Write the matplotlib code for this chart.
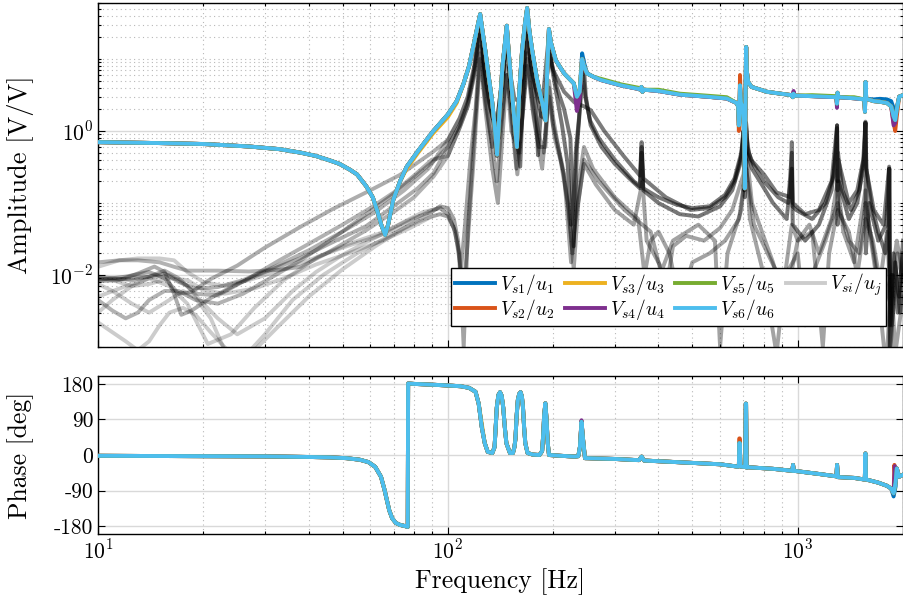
import numpy as np
import matplotlib
matplotlib.use('Agg')
import matplotlib.pyplot as plt
from matplotlib.ticker import LogLocator, FixedLocator, NullFormatter, FixedFormatter

# ---------------- DATA ----------------
# Main diagonal FRF (|Vs6/u6|), (frequency Hz, amplitude V/V)
AMP_BASE = [(10,0.70),(15,0.68),(20,0.66),(27,0.61),(33,0.56),(38,0.50),(42,0.45),(46,0.39),(49,0.35),
            (52.5,0.29),(55,0.25),(58.5,0.17),(61,0.12),(63,0.075),(64.5,0.05),(66.2,0.036),(67.5,0.05),
            (69.8,0.11),(73,0.2),(76.3,0.32),(82,0.52),(90.6,0.98),(100,1.7),(106,2.6),(111,4.6),(115,8),
            (118.6,16),(121.5,28),(123.7,42),(126,22),(128,13),(131,5.5),(133.7,2.7),(136.5,1.0),(138.3,0.47),
            (140.5,1.8),(143.2,7.8),(145.5,16),(147.4,29),(149,14),(151,6.3),(154,2.0),(157.5,0.6),(160,3.5),
            (163,13),(166,30),(168.5,51),(171,25),(174.3,13),(180,5.1),(186,2.5),(190.3,1.4),(192.5,8),
            (194.5,26),(197,17),(203.5,9.6),(215,6.3),(229,4.6),(233.8,3.0),(238,3.5),(242,10),(245,8),
            (250,6.3),(262,5.6),(274.5,5.1),(312.6,4.3),(350,3.85),(355,3.75),(357.5,4.1),(360,3.5),(363,3.75),
            (400,3.6),(461,3.2),(550,3.0),(627,2.83),(669,2.45),(676,2.2),(679,1.2),(682,2.0),(684,4.3),
            (688,2.5),(698,2.0),(704,0.8),(706,0.16),(708,1.0),(711,8),(712.5,14.7),(715,7),(722,4.8),
            (738,4.1),(818,3.5),(960,3.15),(968,2.95),(973,3.3),(978,3.1),(1100,3.05),(1290,2.95),(1295,2.4),
            (1300,3.4),(1308,2.95),(1450,2.85),(1550,2.75),(1557,1.85),(1563,4.8),(1570,2.8),(1650,2.6),
            (1717,2.55),(1800,2.45),(1850,2.2),(1880,1.6),(1900,1.42),(1920,2.0),(1950,3.0),(2000,3.15)]

# Per-channel deviations from the base amplitude curve
VS1_AMP = [(242,12),(245,9),(1650,2.75),(1717,2.8),(1800,2.75),(1850,2.6),(1880,2.1),(1900,1.6),(1930,2.4)]
VS2_AMP = [(679,1.0),(684,6.0),(1880,1.3),(1900,1.0),(1920,1.6)]
VS3_AMP = [(76.3,0.30),(82,0.49),(90.6,0.92),(100,1.56),(106,2.45)]
VS4_AMP = [(233.8,1.9),(238,2.8),(973,3.6),(1295,2.1),(1880,1.2),(1900,1.3)]
VS5_AMP = [(274.5,5.3),(312.6,4.45),(350,4.0),(400,3.75),(461,3.3),(550,3.1),(627,2.95),
           (1100,3.15),(1290,3.05),(1450,2.95)]
VS6_AMP = []

# Main diagonal phase (frequency Hz, phase deg)
PH_BASE = [(10,-2),(20,-3),(30,-3.5),(40,-5),(46,-6),(51.3,-8),(56,-12),(59.3,-18),(62,-30),(64.4,-55),
           (66,-90),(66.9,-113),(68,-140),(69.3,-160),(71,-172),(73,-177),(75.5,-180),(76.8,-182),(77.0,181),
           (80,180),(90,178),(100,176),(109,174),(115,170),(120,160),(122.5,130),(125,71),(127.5,30),(130,8),
           (134,5),(136,20),(137,70),(138,120),(139.5,152),(141,159),(142.5,150),(144,120),(145.5,70),(147,30),
           (150.5,5),(153.5,5),(155,20),(156,40),(157.3,100),(158.5,139),(160,155),(161.4,159),(162.8,148),
           (164,120),(165.2,70),(166.5,30),(169,5),(175,1),(182.8,0),(186,10),(187.3,50),(188.5,100),
           (190,131),(191.5,90),(193,30),(194.6,0),(210,-2),(230,-4),(236,-3),(238.5,20),(241,84),(243.5,40),
           (246.6,-8),(300,-10),(342,-12.6),(352,-13),(358,-4),(364,-14),(450,-18),(600,-23.5),(675,-29.5),
           (679,-28),(681,30),(683,30),(686,-29),(700,-30),(708,-30),(710.5,130),(712,130),(714.5,-32),
           (720,-31),(850,-35),(965,-40),(970,-25),(975,-40),(1150,-48),(1290,-54),(1296,-25),(1303,-56),
           (1450,-58),(1550,-62),(1556,-55),(1562,4),(1568,-62),(1700,-70),(1800,-78),(1850,-85),(1880,-97),
           (1905,-70),(1920,-34),(1950,-55),(2000,-50)]

VS1_PH = [(1880,-105),(1905,-80)]
VS2_PH = [(681,42),(683,42),(1890,-25)]
VS3_PH = [(125,80)]
VS4_PH = [(241,88),(1895,-28)]
VS5_PH = []
VS6_PH = []

CHANNEL_LABELS = [r'$V_{s1}/u_1$', r'$V_{s2}/u_2$', r'$V_{s3}/u_3$',
                  r'$V_{s4}/u_4$', r'$V_{s5}/u_5$', r'$V_{s6}/u_6$']
CROSS_LABEL = r'$V_{si}/u_j$'

# Off-diagonal FRFs: low-frequency parts
LF1 = [(10,0.0085),(12,0.0095),(14,0.011),(15.5,0.009),(17,0.0055),(18.5,0.0058),(21,0.0088),(25,0.0135),
       (30,0.024),(38,0.047),(47,0.083),(60,0.15),(73,0.246),(90,0.5)]
LF2 = [(10,0.009),(12,0.0088),(14,0.0095),(15.5,0.0115),(17,0.009),(19,0.0055),(22,0.0052),(27,0.009),
       (33,0.016),(40,0.027),(50,0.05),(60,0.085),(70,0.14),(80,0.24),(90,0.4)]
LF3 = [(10,0.015),(11.5,0.016),(13,0.016),(15,0.015),(16.5,0.013),(18,0.0115),(22,0.0115),(27,0.0112),
       (33,0.0118),(38,0.013),(45,0.02),(58.5,0.042),(70,0.075),(80,0.12),(91,0.233)]
LF8 = [(10,0.0082),(11.5,0.0085),(13,0.0105),(14.5,0.0131),(15.5,0.011),(16.5,0.0055),(17.3,0.0028),
       (18.5,0.0032),(21,0.0048),(25,0.0075),(30,0.011),(37.8,0.017),(45,0.026),(58.5,0.048),(72,0.1),
       (82,0.16),(91,0.26)]
LF9 = [(10,0.0045),(11,0.0032),(12,0.0025),(13,0.003),(14,0.0045),(15.5,0.006),(17,0.006),(19,0.0045),
       (22,0.004),(26,0.0055),(31,0.009),(38,0.016),(46,0.03),(56,0.06),(68,0.12),(82,0.25),(92,0.4)]
LF10 = [(10,0.0095),(11,0.009),(12.5,0.0085),(14,0.0095),(15.5,0.0105),(17,0.008),(19,0.0065),(22,0.0068),
        (26,0.0085),(32,0.013),(40,0.022),(50,0.04),(62,0.075),(75,0.15),(88,0.3)]
LF4 = [(10,0.005),(12,0.007),(14,0.009),(16,0.01),(18,0.007),(20,0.004),(22,0.0025),(25,0.0015),(30,0.0025),
       (36,0.006),(42,0.011),(50,0.019),(58,0.028),(65,0.037),(75,0.055),(85,0.075)]
LF5 = [(10,0.003),(11,0.0045),(12.5,0.007),(14,0.009),(16,0.007),(18,0.004),(20.6,0.0011),(24,0.0015),
       (28,0.0035),(34,0.0085),(42.6,0.018),(52,0.027),(65,0.039),(80,0.062),(90,0.075)]
LF6 = [(10,0.013),(11.5,0.016),(13,0.017),(15,0.017),(16.5,0.016),(18,0.011),(20,0.008),(23,0.007),
       (27,0.0085),(32,0.011),(40,0.016),(50,0.024),(60,0.032),(70,0.042),(80,0.06),(90,0.08)]
LF7 = [(10,0.0022),(11,0.0016),(12,0.0012),(13,0.0009),(14,0.0012),(15,0.002),(16,0.003),(17.5,0.0035),
       (19,0.0028),(21,0.0016),(24,0.0008),(28,0.0009),(33,0.002),(40,0.005),(50,0.012),(62,0.025),
       (75,0.045),(88,0.07)]
LF11 = [(10,0.0075),(11,0.006),(12.5,0.004),(14,0.003),(16,0.0045),(17.5,0.006),(19,0.0048),(21,0.0025),
        (23,0.0009),(26,0.0007),(30,0.0015),(36,0.0045),(44,0.01),(55,0.02),(68,0.035),(82,0.055),(90,0.065)]
LF12 = [(10,0.009),(11,0.0085),(12.5,0.007),(14,0.0075),(16,0.009),(18,0.0085),(20,0.0062),(23,0.0055),
        (28,0.0065),(34,0.009),(42,0.014),(52,0.02),(65,0.03),(78,0.045),(90,0.065)]

# Off-diagonal FRFs: high-frequency parts
HF_A = [(100,0.75),(108,1.5),(114,3),(119,8),(123.7,35),(127,9),(131,3),(134.5,1.5),(137.5,1.0),(141,3),
        (144.5,8),(147.4,25),(150,7),(153,2.5),(156,1.2),(159.5,2.0),(163,6),(166,20),(168.5,40),(171,15),
        (175,6),(180,3),(185,1.6),(189,1.5),(192,6),(194.5,22),(198,8),(205,3),(212,1.2),(220,0.35),
        (225,0.05),(228,0.08),(232,0.5),(237,1.5),(242,8),(247,3),(255,1.4),(270,0.8),(300,0.4),(340,0.2),
        (354,0.17),(358,0.6),(362,0.16),(400,0.12),(450,0.095),(500,0.085),(560,0.09),(620,0.13),(660,0.22),
        (690,0.5),(702,1.2),(708,0.3),(712,1.3),(716,0.8),(725,0.5),(745,0.35),(800,0.2),(880,0.12),
        (940,0.1),(962,0.5),(966,0.09),(990,0.08),(1100,0.06),(1200,0.1),(1270,0.25),(1296,1.1),(1300,0.2),
        (1304,0.5),(1340,0.15),(1420,0.08),(1500,0.15),(1552,0.5),(1562,1.3),(1572,0.3),(1620,0.1),
        (1700,0.04),(1780,0.02),(1820,0.05),(1828,0.3),(1836,0.002),(1870,0.01),(1930,0.003),(2000,0.02)]
HF_B = [(100,0.45),(108,1.1),(114,2.2),(119,6),(123.7,25),(127,7),(131,2.5),(134.5,1.5),(138,1.3),(142,4),
        (147.4,18),(151,6),(155,2.8),(160,2.6),(165,8),(168.5,25),(172,9),(178,4),(184,2.5),(190,3),
        (194.5,12),(200,7),(215,3.5),(230,2.5),(245,2.2),(256,1.95),(280,1.0),(318,0.45),(354,0.24),
        (358,0.7),(362,0.22),(420,0.12),(494,0.08),(560,0.085),(620,0.12),(660,0.2),(690,0.45),(700,1.0),
        (704,0.15),(712,1.3),(718,0.6),(735,0.4),(801,0.25),(870,0.14),(955,0.12),(962,0.7),(968,0.1),
        (1050,0.07),(1150,0.08),(1250,0.2),(1296,1.2),(1300,0.15),(1306,0.4),(1400,0.1),(1480,0.15),
        (1540,0.4),(1562,1.35),(1570,0.3),(1650,0.08),(1760,0.05),(1826,0.32),(1832,0.001),(1880,0.02),
        (1950,0.005),(2000,0.03)]
HF_E = [(100,0.6),(108,1.2),(114,2.5),(119,7),(123.7,30),(127,8),(131,2.8),(135,1.2),(138,0.45),(141,2),
        (144.5,6),(147.4,20),(150,6),(153,2.2),(157,1.0),(161,0.32),(164,3),(166.5,12),(168.5,38),(171,12),
        (175,5),(179,2),(181,0.46),(184,1.5),(189,5),(194.5,22),(198,9),(205,4),(215,2),(224,0.8),
        (229,0.025),(234,0.6),(240,3),(244,10),(248,3),(256,1.2),(275,0.6),(300,0.35),(330,0.22),(354,0.16),
        (358,0.5),(362,0.15),(400,0.1),(460,0.07),(520,0.065),(600,0.09),(650,0.15),(685,0.35),(700,0.8),
        (706,0.12),(712,1.1),(718,0.5),(740,0.3),(790,0.18),(850,0.1),(930,0.06),(962,0.3),(968,0.05),
        (1050,0.03),(1150,0.05),(1250,0.15),(1290,0.6),(1296,1.2),(1300,0.05),(1310,0.2),(1400,0.06),
        (1480,0.1),(1545,0.35),(1562,1.3),(1566,0.02),(1600,0.1),(1700,0.03),(1790,0.05),(1826,0.3),
        (1840,0.0008),(1900,0.015),(1960,0.003),(2000,0.01)]
HF_C = [(95,0.085),(100,0.07),(105,0.04),(109,0.012),(112,0.05),(116,0.4),(120,2),(123.7,15),(128,3),
        (133,0.8),(138,0.2),(143,1.5),(147.4,8),(152,1.5),(157,0.3),(162,1.2),(168.5,12),(175,2),(182,0.6),
        (190,0.6),(194.5,5),(200,1.5),(210,0.4),(220,0.1),(227,0.02),(235,0.15),(245,0.6),(260,0.3),
        (300,0.12),(350,0.06),(365,0.01),(380,0.03),(400,0.04),(430,0.02),(460,0.004),(500,0.015),
        (560,0.02),(620,0.03),(680,0.06),(712,0.3),(750,0.05),(820,0.02),(900,0.008),(1000,0.02),
        (1050,0.002),(1100,0.01),(1200,0.03),(1300,0.1),(1400,0.03),(1500,0.02),(1562,0.1),(1650,0.02),
        (1750,0.003),(1850,0.01),(1900,0.0008),(2000,0.005)]
HF_D = [(95,0.09),(100,0.085),(104,0.06),(107,0.03),(110,0.0035),(114,0.03),(118,0.3),(123.7,10),(128,2.5),
        (134,0.6),(140,0.8),(147.4,6),(152,2),(158,0.25),(164,2),(168.5,10),(175,2.5),(183,0.8),(188,0.5),
        (194.5,4),(200,1.2),(212,0.35),(222,0.08),(229,0.012),(236,0.1),(245,0.4),(270,0.2),(320,0.08),
        (380,0.04),(420,0.006),(440,0.025),(480,0.035),(540,0.03),(600,0.045),(650,0.08),(700,0.25),
        (712,0.6),(740,0.1),(790,0.04),(850,0.015),(920,0.004),(1000,0.03),(1080,0.05),(1150,0.02),
        (1250,0.06),(1300,0.2),(1350,0.04),(1450,0.015),(1562,0.15),(1620,0.03),(1700,0.006),(1790,0.0005),
        (1850,0.008),(1920,0.03),(2000,0.01)]
HF_F = [(95,0.07),(100,0.065),(104,0.045),(108,0.02),(111,0.001),(114,0.04),(118,0.5),(123.7,12),(128,2),
        (134,0.3),(139,0.1),(144,1.2),(147.4,6),(152,1.0),(160,0.5),(168.5,8),(176,1.5),(186,0.3),
        (194.5,3),(202,0.8),(215,0.25),(225,0.015),(232,0.06),(245,0.35),(265,0.18),(300,0.08),(340,0.05),
        (360,0.2),(370,0.03),(410,0.012),(440,0.03),(520,0.05),(580,0.03),(600,0.001),(630,0.02),(690,0.08),
        (712,0.4),(730,0.06),(800,0.01),(870,0.0008),(920,0.01),(962,0.05),(1000,0.03),(1100,0.04),
        (1180,0.001),(1230,0.02),(1300,0.08),(1400,0.04),(1480,0.01),(1562,0.06),(1640,0.03),(1720,0.008),
        (1800,0.04),(1860,0.002),(1930,0.02),(2000,0.008)]

# which low- and high-frequency parts form each off-diagonal curve, and its opacity
CROSS_CURVES = [('LF1', 'HF_A', 0.32), ('LF8', 'HF_E', 0.32), ('LF2', 'HF_B', 0.3),
                ('LF3', 'HF_B', 0.3), ('LF9', 'HF_E', 0.3), ('LF10', 'HF_A', 0.3),
                ('LF4', 'HF_C', 0.2), ('LF5', 'HF_D', 0.2), ('LF6', 'HF_C', 0.2),
                ('LF7', 'HF_D', 0.2), ('LF11', 'HF_F', 0.2), ('LF12', 'HF_F', 0.2)]

# ---------------- helpers ----------------
SEG = dict(LF1=LF1, LF2=LF2, LF3=LF3, LF4=LF4, LF5=LF5, LF6=LF6, LF7=LF7, LF8=LF8, LF9=LF9,
           LF10=LF10, LF11=LF11, LF12=LF12, HF_A=HF_A, HF_B=HF_B, HF_C=HF_C, HF_D=HF_D,
           HF_E=HF_E, HF_F=HF_F)


def merged(base, ovr):
    d = dict(base)
    d.update(dict(ovr))
    items = sorted(d.items())
    return np.array([k for k, _ in items]), np.array([v for _, v in items])


def joined(lf, hf):
    pts = sorted(lf + hf)
    return np.array([p[0] for p in pts]), np.array([p[1] for p in pts])


# ---------------- style ----------------
plt.rcParams['font.family'] = ['cmr10', 'DejaVu Serif']
plt.rcParams['mathtext.fontset'] = 'cm'
plt.rcParams['axes.unicode_minus'] = False
plt.rcParams['axes.formatter.use_mathtext'] = True

COLORS = ['#0072BD', '#D95319', '#EDB120', '#7E2F8E', '#77AC30', '#4DBEEE']
MAJ_GRID = dict(color='#d9d9d9', linestyle='-', linewidth=1.0)
MIN_GRID = dict(color='#b8b8b8', linestyle=(0, (1, 3)), linewidth=0.8)

fig = plt.figure(figsize=(9.04, 6.02), dpi=100)
W = (903 - 98) / 904
ax1 = fig.add_axes([98 / 904, 1 - 347 / 602, W, (347 - 3) / 602])
ax2 = fig.add_axes([98 / 904, 1 - 534 / 602, W, (534 - 376) / 602], sharex=ax1)

# off-diagonal curves
cross_handle = None
for lf, hf, alpha in CROSS_CURVES:
    f, a = joined(SEG[lf], SEG[hf])
    ln, = ax1.plot(f, a, color='black', alpha=alpha, lw=2.8, solid_joinstyle='round', zorder=2)
    if alpha <= 0.2 and cross_handle is None:
        cross_handle = ln

amp_ovr = [VS1_AMP, VS2_AMP, VS3_AMP, VS4_AMP, VS5_AMP, VS6_AMP]
ph_ovr = [VS1_PH, VS2_PH, VS3_PH, VS4_PH, VS5_PH, VS6_PH]
handles = []
for i in range(6):
    f, a = merged(AMP_BASE, amp_ovr[i])
    h, = ax1.plot(f, a, color=COLORS[i], lw=2.8, zorder=3 + i, label=CHANNEL_LABELS[i])
    handles.append(h)
    fp, p = merged(PH_BASE, ph_ovr[i])
    ax2.plot(fp, p, color=COLORS[i], lw=2.8, zorder=3 + i)

# --- amplitude axes ---
ax1.set_xscale('log')
ax1.set_yscale('log')
ax1.set_xlim(10, 2000)
ax1.set_ylim(1e-3, 60)
ax1.yaxis.set_major_locator(FixedLocator([1e-2, 1e0]))
ax1.yaxis.set_major_formatter(FixedFormatter([r'$10^{-2}$', r'$10^{0}$']))
ax1.yaxis.set_minor_locator(LogLocator(base=10, subs=np.arange(1, 10), numticks=50))
ax1.yaxis.set_minor_formatter(NullFormatter())
ax1.set_ylabel('Amplitude [V/V]', fontsize=19)
ax1.tick_params(axis='x', which='both', labelbottom=False)

for ax in (ax1, ax2):
    ax.xaxis.set_major_locator(FixedLocator([10, 100, 1000]))
    ax.xaxis.set_minor_locator(LogLocator(base=10, subs=np.arange(2, 10), numticks=50))
    ax.xaxis.set_minor_formatter(NullFormatter())
    ax.tick_params(which='both', direction='in', top=True, right=True, labelsize=15.5, width=0.8)
    ax.tick_params(which='major', length=5)
    ax.tick_params(which='minor', length=2.5)
    for s in ax.spines.values():
        s.set_linewidth(1.0)
    ax.set_axisbelow(True)

ax1.grid(True, which='major', **MAJ_GRID)
ax1.grid(True, which='minor', **MIN_GRID)

# --- phase axes ---
ax2.set_ylim(-200, 200)
ax2.yaxis.set_major_locator(FixedLocator([-180, -90, 0, 90, 180]))
ax2.yaxis.set_major_formatter(FixedFormatter(['-180', '-90', '0', '90', '180']))
ax2.xaxis.set_major_formatter(FixedFormatter([r'$10^{1}$', r'$10^{2}$', r'$10^{3}$']))
ax2.set_ylabel('Phase [deg]', fontsize=18.5)
ax2.set_xlabel('Frequency [Hz]', fontsize=18.5)
ax2.grid(True, which='major', **MAJ_GRID)
ax2.xaxis.grid(True, which='minor', **MIN_GRID)

ax1.yaxis.set_label_coords(-0.08, 0.5)
ax2.yaxis.set_label_coords(-0.08, 0.5)

# legend
leg_handles = handles + [cross_handle]
leg_labels = CHANNEL_LABELS + [CROSS_LABEL]
leg = ax1.legend(leg_handles, leg_labels, ncol=4, loc='lower right',
                 bbox_to_anchor=(0.979, 0.061), borderaxespad=0, fontsize=14,
                 frameon=True, fancybox=False, framealpha=1, edgecolor='black',
                 handlelength=2.05, handletextpad=0.25, columnspacing=0.55,
                 labelspacing=0.02, borderpad=0.2)
leg.get_frame().set_linewidth(1.0)
leg.set_zorder(20)

fig.savefig('out.png', dpi=100)
